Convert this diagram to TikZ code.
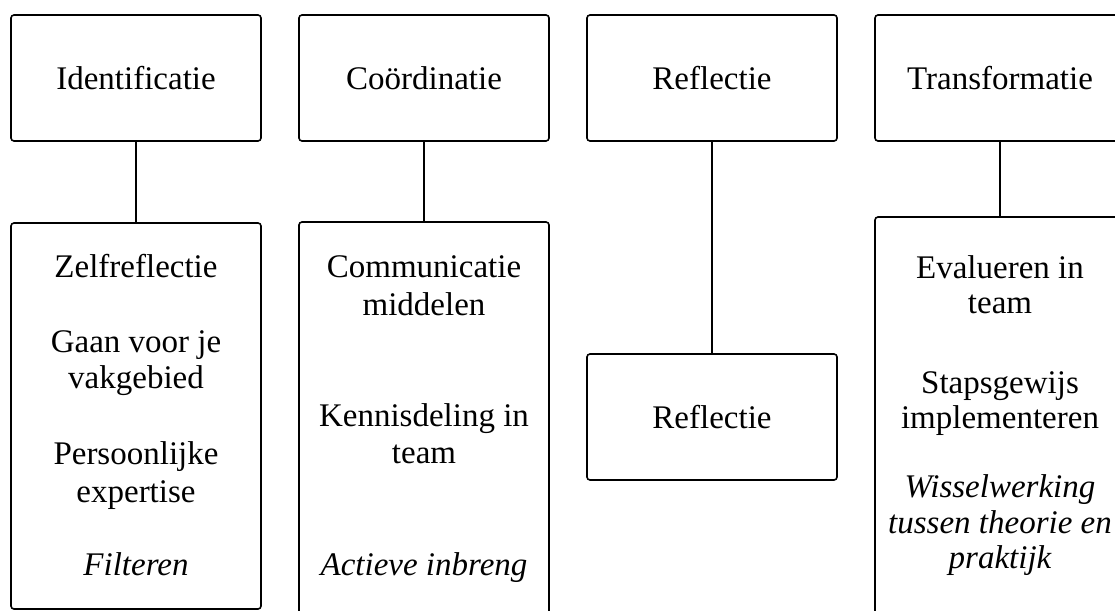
\documentclass[tikz,border=0pt]{standalone}
\usepackage{fontspec}
\setmainfont{Liberation Serif}
\begin{document}
\begin{tikzpicture}[x=1pt,y=-1pt,
  box/.style={draw, line width=1.6pt, rounded corners=3pt, inner sep=0pt, minimum width=250pt, font=\fontsize{33}{38}\selectfont},
  txt/.style={anchor=base, inner sep=0pt, font=\fontsize{33}{38}\selectfont},
  itxt/.style={txt, font=\fontsize{33}{38}\selectfont\itshape},
  link/.style={line width=1.3pt}]
\useasboundingbox (0,0) rectangle (1115,610);
\clip (0,0) rectangle (1115,610);
% top boxes
\node[box, minimum height=126pt] (t1) at (136,78) {Identificatie};
\node[box, minimum height=126pt] (t2) at (424,78) {Coördinatie};
\node[box, minimum height=126pt] (t3) at (712,78) {Reflectie};
\node[box, minimum height=126pt] (t4) at (1000,78) {Transformatie};
% bottom boxes
\node[box, minimum height=386pt] (b1) at (136,416) {};
\node[box, minimum height=396pt] (b2) at (424,420) {};
\node[box, minimum height=126pt] (b3) at (712,417) {Reflectie};
\node[box, minimum height=410pt] (b4) at (1000,422) {};
% connectors
\draw[link] (t1.south) -- (b1.north);
\draw[link] (t2.south) -- (b2.north);
\draw[link] (t3.south) -- (b3.north);
\draw[link] (t4.south) -- (b4.north);
% texts box 1
\node[txt] (a1) at (136,277) {Zelfreflectie};
\node[txt] (a2) at (136,352) {Gaan voor je};
\node[txt] (a3) at (136,388) {vakgebied};
\node[txt] (a4) at (136,464) {Persoonlijke};
\node[txt] (a5) at (136,502) {expertise};
\node[itxt] (a6) at (136,575) {Filteren};
% texts box 2
\node[txt] (c1) at (424,277) {Communicatie};
\node[txt] (c2) at (424,315) {middelen};
\node[txt] (c3) at (424,426) {Kennisdeling in};
\node[txt] (c4) at (424,463) {team};
\node[itxt] (c5) at (424,575) {Actieve inbreng};
% texts box 4
\node[txt] (e1) at (1000,278) {Evalueren in};
\node[txt] (e2) at (1000,313) {team};
\node[txt] (e3) at (1000,393) {Stapsgewijs};
\node[txt] (e4) at (1000,428) {implementeren};
\node[itxt] (e5) at (1000,497) {Wisselwerking};
\node[itxt] (e6) at (1000,533) {tussen theorie en};
\node[itxt] (e7) at (1000,568) {praktijk};
\end{tikzpicture}
\end{document}
